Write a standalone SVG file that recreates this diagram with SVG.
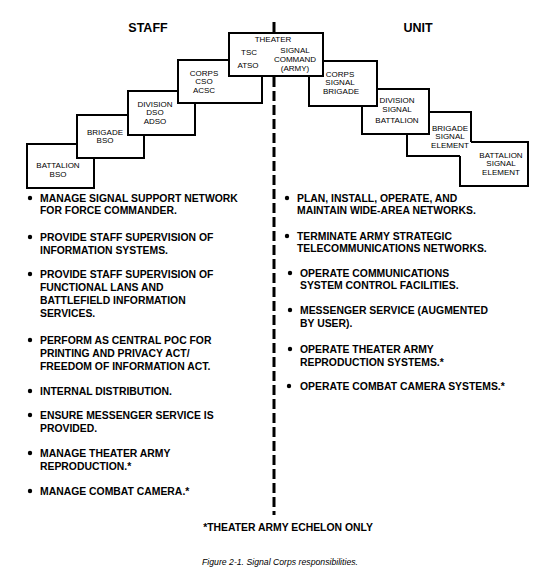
<svg xmlns="http://www.w3.org/2000/svg" width="550" height="575" viewBox="0 0 550 575">
<style>
.box{fill:#fff;stroke:#000;stroke-width:2}
.fillonly{fill:#fff;stroke:none}
.edge{fill:none;stroke:#000;stroke-width:2}
.bl{font-family:"Liberation Sans",Arial,sans-serif;font-size:8px;text-anchor:middle;fill:#000}
.bt{font-family:"Liberation Sans",Arial,sans-serif;font-size:10.4px;font-weight:bold;fill:#000}
.hd{font-family:"Liberation Sans",Arial,sans-serif;font-size:12.5px;font-weight:bold;text-anchor:middle;fill:#000}
.dot{fill:#000}
</style>
<rect width="550" height="575" fill="#fff"/>
<text class="hd" x="148" y="32">STAFF</text>
<text class="hd" x="418" y="32">UNIT</text>
<g id="divider" stroke="#000" stroke-width="3">
<line x1="274" y1="22" x2="274" y2="34"/>
<line x1="274" y1="77" x2="274" y2="515" stroke-dasharray="10 4"/>
</g>
<g id="staff-battalion"><rect class="box" x="27" y="144" width="67" height="44"/><text class="bl" x="58" y="168">BATTALION</text><text class="bl" x="58" y="177">BSO</text></g>
<g id="staff-brigade"><rect class="box" x="77" y="115" width="67" height="43"/><text class="bl" x="105" y="135">BRIGADE</text><text class="bl" x="105" y="143">BSO</text></g>
<g id="staff-division"><rect class="box" x="128" y="91" width="67" height="44"/><text class="bl" x="155" y="107">DIVISION</text><text class="bl" x="155" y="115">DSO</text><text class="bl" x="155" y="124">ADSO</text></g>
<g id="staff-corps"><rect class="box" x="178" y="60" width="84" height="43"/><text class="bl" x="204" y="76">CORPS</text><text class="bl" x="204" y="84">CSO</text><text class="bl" x="204" y="93">ACSC</text></g>
<g id="unit-battalion"><rect class="box" x="460" y="142" width="68" height="44"/><text class="bl" x="501" y="158">BATTALION</text><text class="bl" x="501" y="166">SIGNAL</text><text class="bl" x="501" y="175">ELEMENT</text></g>
<g id="unit-brigade"><rect class="fillonly" x="407" y="112" width="64" height="44"/><path class="edge" d="M460,156 H407 V112 H471 V142"/><text class="bl" x="450" y="131">BRIGADE</text><text class="bl" x="450" y="139">SIGNAL</text><text class="bl" x="450" y="148">ELEMENT</text></g>
<g id="unit-division"><rect class="box" x="362" y="89" width="67" height="45"/><text class="bl" x="397" y="103">DIVISION</text><text class="bl" x="397" y="112">SIGNAL</text><text class="bl" x="397" y="123">BATTALION</text></g>
<g id="unit-corps"><rect class="box" x="309" y="61" width="68" height="45"/><text class="bl" x="340" y="77">CORPS</text><text class="bl" x="340" y="85">SIGNAL</text><text class="bl" x="341" y="94">BRIGADE</text></g>
<g id="theater"><rect class="box" x="229" y="33" width="94" height="43"/><text class="bl" x="273" y="42">THEATER</text><text class="bl" x="249" y="55">TSC</text><text class="bl" x="248" y="68">ATSO</text><text class="bl" x="295" y="53">SIGNAL</text><text class="bl" x="295" y="62">COMMAND</text><text class="bl" x="295" y="71">(ARMY)</text></g>
<g id="staff-list">
<circle class="dot" cx="30" cy="198" r="2.2"/><text class="bt" x="40" y="202">MANAGE SIGNAL SUPPORT NETWORK</text><text class="bt" x="40" y="214">FOR FORCE COMMANDER.</text>
<circle class="dot" cx="30" cy="237" r="2.2"/><text class="bt" x="40" y="241">PROVIDE STAFF SUPERVISION OF</text><text class="bt" x="40" y="254">INFORMATION SYSTEMS.</text>
<circle class="dot" cx="30" cy="274" r="2.2"/><text class="bt" x="40" y="278">PROVIDE STAFF SUPERVISION OF</text><text class="bt" x="40" y="291">FUNCTIONAL LANS AND</text><text class="bt" x="40" y="304">BATTLEFIELD INFORMATION</text><text class="bt" x="40" y="317">SERVICES.</text>
<circle class="dot" cx="30" cy="340" r="2.2"/><text class="bt" x="40" y="344">PERFORM AS CENTRAL POC FOR</text><text class="bt" x="40" y="357">PRINTING AND PRIVACY ACT/</text><text class="bt" x="40" y="370">FREEDOM OF INFORMATION ACT.</text>
<circle class="dot" cx="30" cy="391" r="2.2"/><text class="bt" x="40" y="395">INTERNAL DISTRIBUTION.</text>
<circle class="dot" cx="30" cy="415" r="2.2"/><text class="bt" x="40" y="419">ENSURE MESSENGER SERVICE IS</text><text class="bt" x="40" y="432">PROVIDED.</text>
<circle class="dot" cx="30" cy="453" r="2.2"/><text class="bt" x="40" y="457">MANAGE THEATER ARMY</text><text class="bt" x="40" y="470">REPRODUCTION.*</text>
<circle class="dot" cx="30" cy="491" r="2.2"/><text class="bt" x="40" y="495">MANAGE COMBAT CAMERA.*</text>
</g>
<g id="unit-list">
<circle class="dot" cx="287" cy="198" r="2.2"/><text class="bt" x="297" y="202">PLAN, INSTALL, OPERATE, AND</text><text class="bt" x="297" y="214">MAINTAIN WIDE-AREA NETWORKS.</text>
<circle class="dot" cx="287" cy="236" r="2.2"/><text class="bt" x="297" y="240">TERMINATE ARMY STRATEGIC</text><text class="bt" x="297" y="252">TELECOMMUNICATIONS NETWORKS.</text>
<circle class="dot" cx="290" cy="273" r="2.2"/><text class="bt" x="300" y="277">OPERATE COMMUNICATIONS</text><text class="bt" x="300" y="289">SYSTEM CONTROL FACILITIES.</text>
<circle class="dot" cx="290" cy="310" r="2.2"/><text class="bt" x="300" y="314">MESSENGER SERVICE (AUGMENTED</text><text class="bt" x="300" y="327">BY USER).</text>
<circle class="dot" cx="290" cy="349" r="2.2"/><text class="bt" x="300" y="353">OPERATE THEATER ARMY</text><text class="bt" x="300" y="366">REPRODUCTION SYSTEMS.*</text>
<circle class="dot" cx="289" cy="386" r="2.2"/><text class="bt" x="300" y="390">OPERATE COMBAT CAMERA SYSTEMS.*</text>
</g>
<text class="bt" x="288" y="531" text-anchor="middle">*THEATER ARMY ECHELON ONLY</text>
<text x="280" y="565" text-anchor="middle" font-family="Liberation Sans, Arial, sans-serif" font-size="8.7" font-style="italic">Figure 2-1. Signal Corps responsibilities.</text>
</svg>
